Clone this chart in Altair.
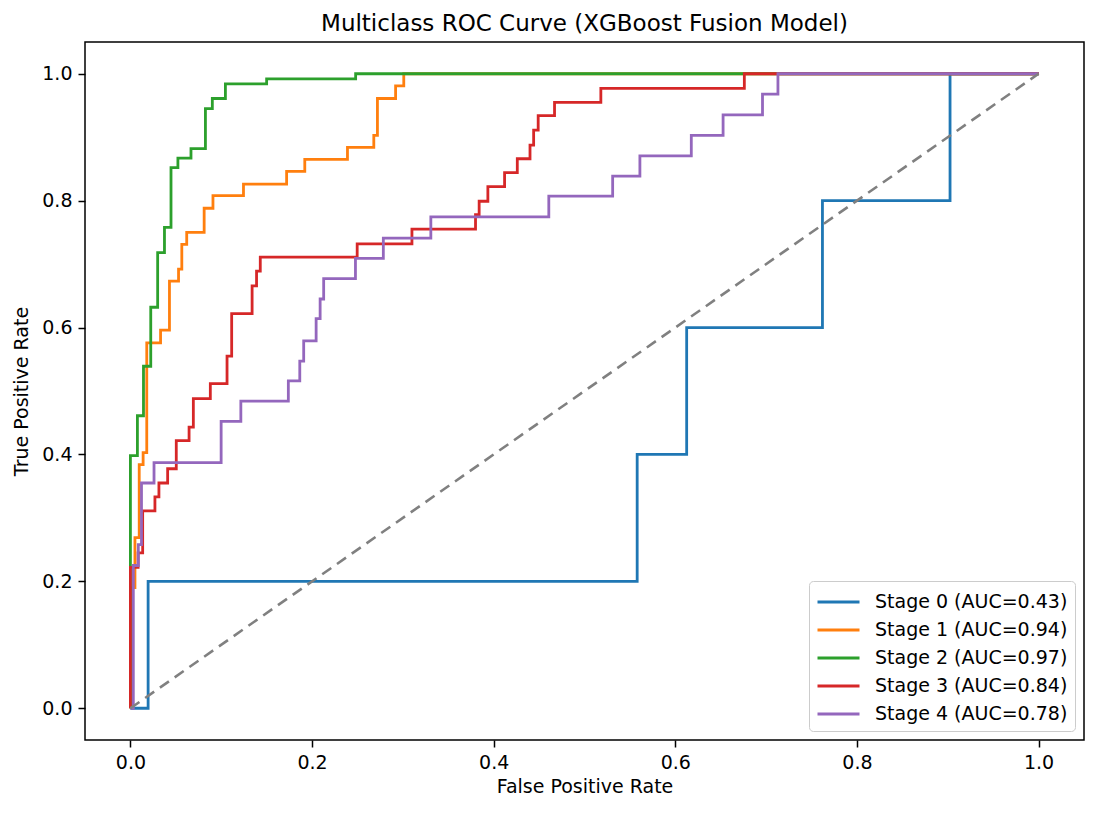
import altair as alt
import pandas as pd

# ---- data ----
stage_names = ["Stage 0", "Stage 1", "Stage 2", "Stage 3", "Stage 4"]
auc_values = [0.43, 0.94, 0.97, 0.84, 0.78]
colors = ["#1f77b4", "#ff7f0e", "#2ca02c", "#d62728", "#9467bd"]

fpr0 = [0, 0.0195, 0.0195, 0.558, 0.558, 0.6125, 0.6125, 0.762, 0.762, 0.9025, 0.9025, 1.0]
tpr0 = [0, 0, 0.2, 0.2, 0.4, 0.4, 0.6, 0.6, 0.8, 0.8, 1.0, 1.0]

fpr1 = [0, 0, 0.005, 0.005, 0.0097, 0.0097, 0.014, 0.014, 0.018, 0.018, 0.0332, 0.0332,
        0.043, 0.043, 0.053, 0.053, 0.0566, 0.0566, 0.062, 0.062, 0.0812, 0.0812,
        0.0909, 0.0909, 0.1245, 0.1245, 0.172, 0.172, 0.192, 0.192, 0.239, 0.239,
        0.268, 0.268, 0.272, 0.272, 0.292, 0.292, 0.301, 0.301, 1.0]
tpr1 = [0, 0.19, 0.19, 0.269, 0.269, 0.384, 0.384, 0.403, 0.403, 0.576, 0.576, 0.596,
        0.596, 0.673, 0.673, 0.692, 0.692, 0.731, 0.731, 0.750, 0.750, 0.788,
        0.788, 0.808, 0.808, 0.826, 0.826, 0.846, 0.846, 0.865, 0.865, 0.884,
        0.884, 0.903, 0.903, 0.961, 0.961, 0.981, 0.981, 1.0, 1.0]

fpr2 = [0, 0, 0.0077, 0.0077, 0.0144, 0.0144, 0.0224, 0.0224, 0.030, 0.030, 0.0375, 0.0375,
        0.0447, 0.0447, 0.0523, 0.0523, 0.0667, 0.0667, 0.0826, 0.0826, 0.0902, 0.0902,
        0.1046, 0.1046, 0.150, 0.150, 0.248, 0.248, 1.0]
tpr2 = [0, 0.398, 0.398, 0.461, 0.461, 0.539, 0.539, 0.632, 0.632, 0.718, 0.718, 0.758,
        0.758, 0.852, 0.852, 0.867, 0.867, 0.882, 0.882, 0.945, 0.945, 0.961,
        0.961, 0.984, 0.984, 0.992, 0.992, 1.0, 1.0]

fpr3 = [0, 0, 0.0085, 0.0085, 0.0135, 0.0135, 0.027, 0.027, 0.0314, 0.0314, 0.041, 0.041,
        0.0505, 0.0505, 0.0646, 0.0646, 0.0693, 0.0693, 0.088, 0.088, 0.1064, 0.1064,
        0.1115, 0.1115, 0.134, 0.134, 0.1389, 0.1389, 0.143, 0.143, 0.2497, 0.2497,
        0.310, 0.310, 0.380, 0.380, 0.384, 0.384, 0.3936, 0.3936, 0.412, 0.412,
        0.426, 0.426, 0.440, 0.440, 0.444, 0.444, 0.449, 0.449, 0.467, 0.467,
        0.518, 0.518, 0.676, 0.676, 1.0]
tpr3 = [0, 0.222, 0.222, 0.245, 0.245, 0.311, 0.311, 0.333, 0.333, 0.355, 0.355, 0.3775,
        0.3775, 0.4217, 0.4217, 0.443, 0.443, 0.488, 0.488, 0.5116, 0.5116, 0.555,
        0.555, 0.622, 0.622, 0.6656, 0.6656, 0.6888, 0.6888, 0.711, 0.711, 0.732,
        0.732, 0.755, 0.755, 0.778, 0.778, 0.799, 0.799, 0.822, 0.822, 0.844,
        0.844, 0.866, 0.866, 0.8875, 0.8875, 0.911, 0.911, 0.934, 0.934, 0.955,
        0.955, 0.977, 0.977, 1.0, 1.0]

fpr4 = [0, 0.0032, 0.0032, 0.0087, 0.0087, 0.0122, 0.0122, 0.026, 0.026, 0.0999, 0.0999,
        0.1216, 0.1216, 0.1739, 0.1739, 0.1865, 0.1865, 0.1908, 0.1908, 0.2045, 0.2045,
        0.2089, 0.2089, 0.2128, 0.2128, 0.2478, 0.2478, 0.2785, 0.2785, 0.3308, 0.3308,
        0.4607, 0.4607, 0.531, 0.531, 0.561, 0.561, 0.6176, 0.6176, 0.6526, 0.6526,
        0.696, 0.696, 0.713, 0.713, 1.0]
tpr4 = [0, 0, 0.225, 0.225, 0.258, 0.258, 0.355, 0.355, 0.387, 0.387, 0.452,
        0.452, 0.484, 0.484, 0.516, 0.516, 0.547, 0.547, 0.579, 0.579, 0.614,
        0.614, 0.645, 0.645, 0.677, 0.677, 0.709, 0.709, 0.741, 0.741, 0.7745,
        0.7745, 0.807, 0.807, 0.8387, 0.8387, 0.8705, 0.8705, 0.903, 0.903, 0.935,
        0.935, 0.968, 0.968, 1.0, 1.0]

diag_x = [0, 1]
diag_y = [0, 1]

tick_values = [0.0, 0.2, 0.4, 0.6, 0.8, 1.0]

# ---- build table ----
fprs = [fpr0, fpr1, fpr2, fpr3, fpr4]
tprs = [tpr0, tpr1, tpr2, tpr3, tpr4]
labels = [f"{n} (AUC={a:.2f})" for n, a in zip(stage_names, auc_values)]
rows = []
for lab, fx, ty in zip(labels, fprs, tprs):
    for i, (a, b) in enumerate(zip(fx, ty)):
        rows.append({"series": lab, "fpr": a, "tpr": b, "i": i})
df = pd.DataFrame(rows)
diag = pd.DataFrame({"fpr": diag_x, "tpr": diag_y})

FONT = "DejaVu Sans"
xscale = alt.Scale(domain=[-0.05, 1.05], nice=False, zero=False)
yscale = alt.Scale(domain=[-0.05, 1.05], nice=False, zero=False)

xaxis = alt.Axis(title="False Positive Rate", values=tick_values, format=".1f", titlePadding=5)
yaxis = alt.Axis(title="True Positive Rate", values=tick_values, format=".1f", titlePadding=10)

lines = alt.Chart(df).mark_line(strokeWidth=2.8, clip=True).encode(
    x=alt.X("fpr:Q", scale=xscale, axis=xaxis),
    y=alt.Y("tpr:Q", scale=yscale, axis=yaxis),
    color=alt.Color(
        "series:N",
        scale=alt.Scale(domain=labels, range=colors),
        legend=alt.Legend(
            title=None,
            orient="bottom-right",
            offset=9,
            symbolType="M-1,0H2.36",
            symbolSize=625,
            symbolStrokeWidth=2.8,
            labelFontSize=19,
            labelFont=FONT,
            labelColor="black",
            labelOffset=31,
            labelLimit=400,
            rowPadding=4,
            padding=7,
            strokeColor="#cccccc",
            fillColor="white",
            cornerRadius=4,
        ),
    ),
    order=alt.Order("i:Q"),
)

diagonal = alt.Chart(diag).mark_line(
    color="#808080", strokeWidth=2.6, strokeDash=[11, 7]
).encode(
    x=alt.X("fpr:Q", scale=xscale),
    y=alt.Y("tpr:Q", scale=yscale),
)

chart = (
    alt.layer(lines, diagonal)
    .properties(
        width=999,
        height=698,
        padding={"left": 77, "top": 34, "right": 1, "bottom": 62},
        autosize=alt.AutoSizeParams(type="none"),
        title=alt.TitleParams(
            "Multiclass ROC Curve (XGBoost Fusion Model)",
            fontSize=23,
            font=FONT,
            fontWeight="normal",
            anchor="middle",
            offset=6,
            color="black",
        ),
    )
    .configure_view(stroke="black", strokeWidth=1.5)
    .configure_axis(
        domain=False,
        grid=False,
        tickColor="black",
        tickWidth=1.5,
        tickSize=7,
        labelPadding=6,
        labelFontSize=19,
        labelFont=FONT,
        labelColor="black",
        titleFont=FONT,
        titleFontSize=19,
        titleFontWeight="normal",
        titleColor="black",
    )
)

chart.save("out.html", embed_options={"renderer": "svg", "actions": False})
